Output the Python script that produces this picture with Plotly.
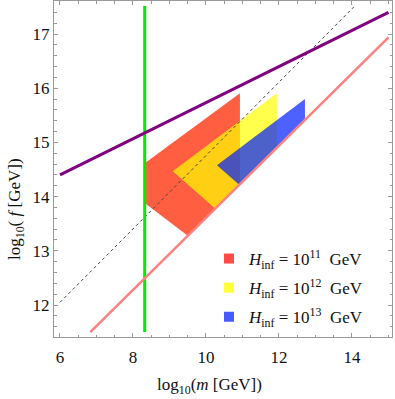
import plotly.graph_objects as go

# ---- data ----
red_m = [8.33, 8.33, 9.50, 10.93, 10.93]
red_f = [14.62, 13.88, 13.28, 14.23, 15.91]
yellow_m = [9.09, 10.25, 11.94, 11.94]
yellow_f = [14.47, 13.78, 14.90, 15.91]
blue_m = [10.30, 10.91, 12.71, 12.71]
blue_f = [14.58, 14.22, 15.42, 15.80]

purple_m = [6.0, 15.0]
purple_f = [14.40, 17.40]
pink_m = [6.83, 15.0]
pink_f = [11.50, 16.94]
dashed_m = [6.0, 14.05]
dashed_f = [12.05, 17.50]
green_m = [8.32, 8.32]
green_f = [11.50, 17.52]

legend_labels = ["<i>H</i><sub>inf</sub> = 10<sup>11</sup>&nbsp; GeV",
                 "<i>H</i><sub>inf</sub> = 10<sup>12</sup>&nbsp; GeV",
                 "<i>H</i><sub>inf</sub> = 10<sup>13</sup>&nbsp; GeV"]

x_ticks = [6, 8, 10, 12, 14]
y_ticks = [12, 13, 14, 15, 16, 17]

FONT = "Liberation Serif"
red_c = "rgba(255,40,0,0.75)"
yel_c = "rgba(255,255,0,0.70)"
blu_c = "rgba(0,30,255,0.70)"

fig = go.Figure()
for m, f, c in [(red_m, red_f, red_c), (yellow_m, yellow_f, yel_c), (blue_m, blue_f, blu_c)]:
    fig.add_trace(go.Scatter(x=m + [m[0]], y=f + [f[0]], mode="lines", fill="toself",
                             fillcolor=c, line=dict(width=0), showlegend=False,
                             hoverinfo="skip"))

fig.add_trace(go.Scatter(x=dashed_m, y=dashed_f, mode="lines",
                         line=dict(color="#444444", width=1, dash="3px,3px"), showlegend=False))
fig.add_trace(go.Scatter(x=green_m, y=green_f, mode="lines",
                         line=dict(color="#00EE00", width=3), showlegend=False))
fig.add_trace(go.Scatter(x=pink_m, y=pink_f, mode="lines",
                         line=dict(color="#FF8080", width=2.5), showlegend=False))
fig.add_trace(go.Scatter(x=purple_m, y=purple_f, mode="lines",
                         line=dict(color="#800080", width=3), showlegend=False))

for i, (lab, c) in enumerate(zip(legend_labels,
                                 ["rgba(255,75,70,1)", "rgba(255,255,60,1)", "rgba(70,90,255,1)"])):
    fig.add_trace(go.Scatter(x=[None], y=[None], mode="markers", name=lab, legendgroup=f"g{i}",
                             marker=dict(symbol="square", size=10, color=c)))

axis_common = dict(showgrid=False, zeroline=False, showline=True, linecolor="#999999",
                   linewidth=1, mirror="ticks", ticks="inside", tickcolor="#999999",
                   ticklen=4, tickfont=dict(family=FONT, size=17, color="#111111"))

fig.update_xaxes(range=[5.836, 15.096], tickvals=x_ticks, ticklabelstandoff=5,
                 minor=dict(dtick=0.5, ticks="inside", ticklen=2.5, tickcolor="#999999"),
                 **axis_common)
fig.update_yaxes(range=[11.41, 17.61], tickvals=y_ticks,
                 minor=dict(dtick=0.2, ticks="inside", ticklen=2.5, tickcolor="#999999"),
                 **axis_common)

fig.add_annotation(text="log<sub>10</sub>(<i>m</i> [GeV])", xref="paper", yref="paper",
                   x=(209 - 54) / 338, y=-(386 - 337) / 336, showarrow=False,
                   xanchor="center", yanchor="middle",
                   font=dict(family=FONT, size=17, color="#111111"))
fig.add_annotation(text="log<sub>10</sub>( <i>f</i> [GeV])", xref="paper", yref="paper",
                   x=-(54 - 16) / 338, y=(337 - 209) / 336, showarrow=False, textangle=-90,
                   xanchor="center", yanchor="middle",
                   font=dict(family=FONT, size=17, color="#111111"))

fig.update_layout(width=395, height=399, margin=dict(l=54, r=3, t=1, b=62),
                  plot_bgcolor="white", paper_bgcolor="white",
                  legend=dict(x=(209 - 54) / 338, y=(337 - 241) / 336, xanchor="left",
                              yanchor="top", bgcolor="rgba(0,0,0,0)",
                              font=dict(family=FONT, size=17, color="#111111"),
                              itemwidth=30, tracegroupgap=4))

fig.write_html("out.html", config={"displayModeBar": False},
               post_script="document.body.style.margin='0px';document.body.style.overflow='hidden';")
